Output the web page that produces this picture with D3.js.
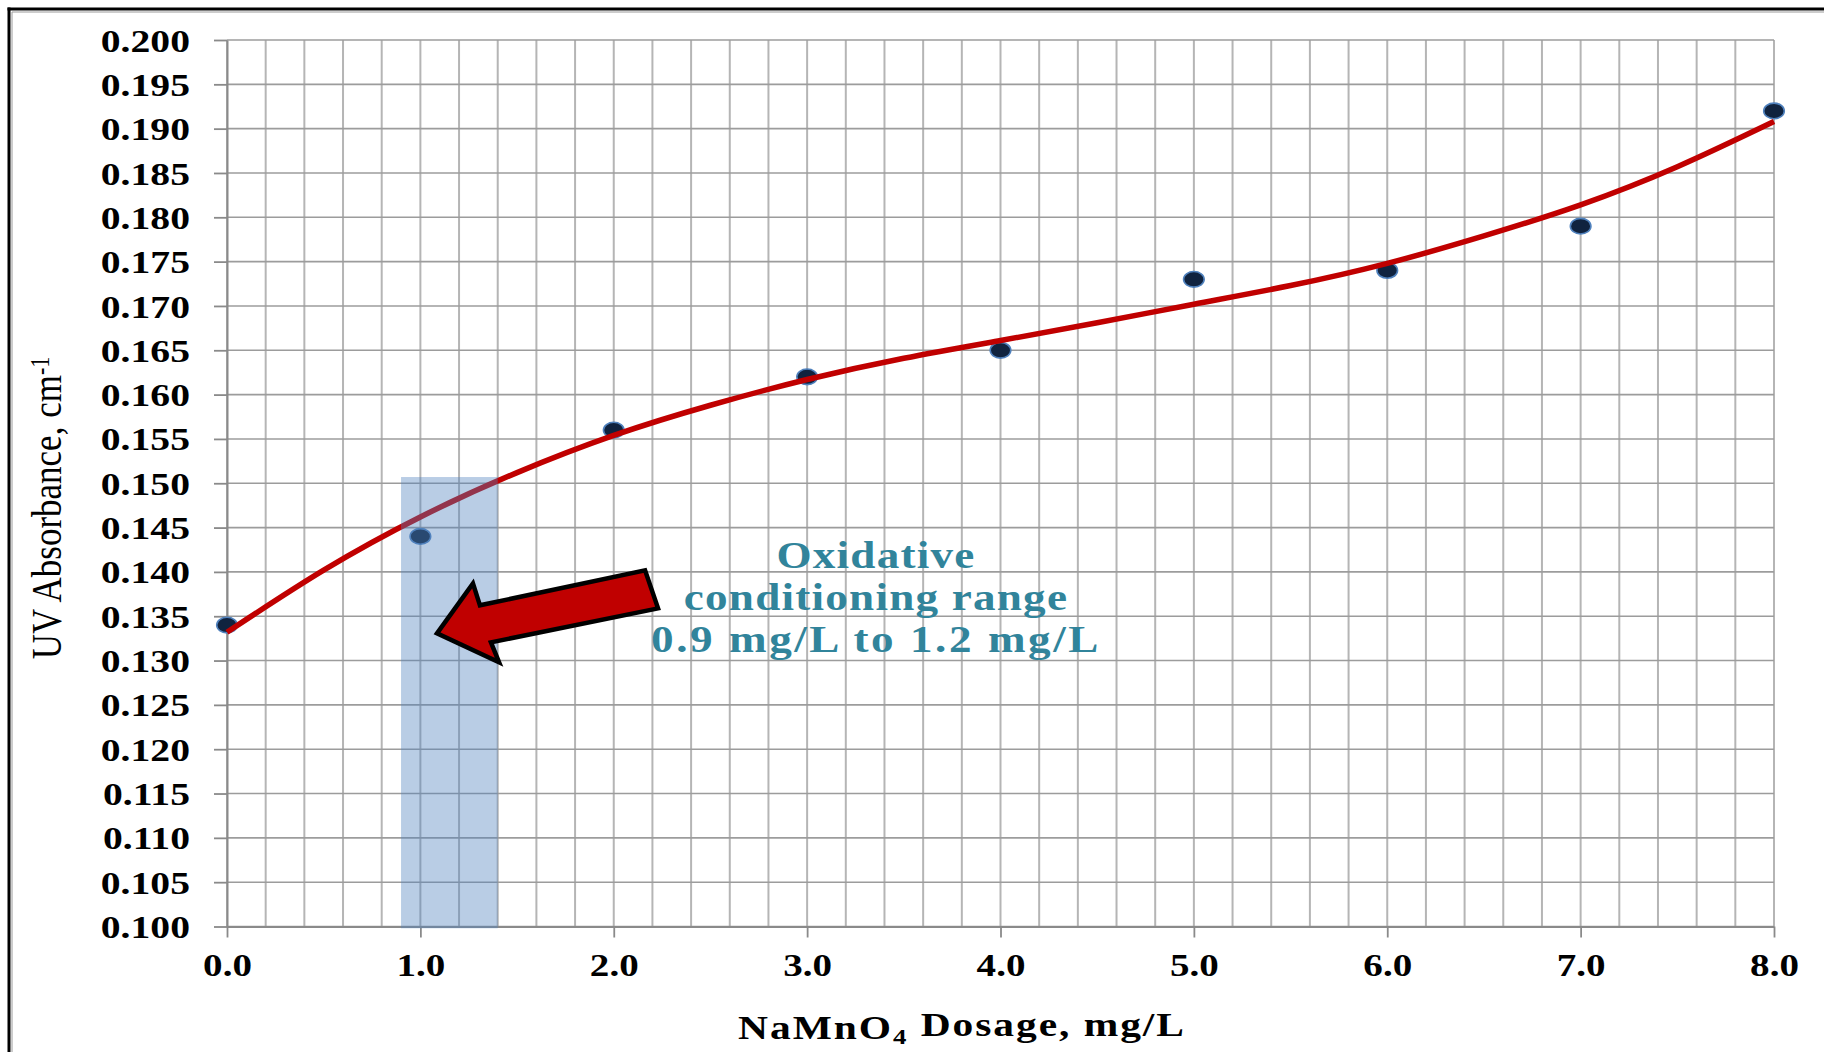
<!DOCTYPE html>
<html>
<head>
<meta charset="utf-8">
<script src="https://cdn.jsdelivr.net/npm/d3@7"></script>
<style>
  html, body { margin: 0; padding: 0; background: #ffffff; }
  svg { display: block; }
  text { font-family: "Liberation Serif", "Times New Roman", serif; }
</style>
</head>
<body>
<svg id="chart" width="1824" height="1052"></svg>
<script>
// Measured samples: NaMnO4 dosage (mg/L) vs. UV absorbance (cm^-1)
const dosage = [0, 1, 2, 3, 4, 5, 6, 7, 8];
const absorbance = [0.134, 0.144, 0.156, 0.162, 0.165, 0.173, 0.174, 0.179, 0.192];

// Trendline through the samples
const trendDosage = [0, 0.5, 1, 1.5, 2, 2.5, 3, 3.5, 4, 4.5, 5, 5.5, 6, 6.5, 7, 7.5, 8];
const trendAbsorbance = [0.1332, 0.1402, 0.1462, 0.1512, 0.1554, 0.1588, 0.1617, 0.1641,
                         0.1661, 0.1681, 0.1702, 0.1723, 0.1748, 0.1779, 0.1814, 0.1857, 0.1908];

// Axis ticks
const xTickValues = [0, 1, 2, 3, 4, 5, 6, 7, 8];
const xGridValues = d3.range(0, 40.5, 1).map(i => i / 5);
const yTickValues = d3.range(0, 20.5, 1).map(i => +(0.100 + i * 0.005).toFixed(3));

// Highlighted dosage range and its callout
const rangeDosage = [0.9, 1.4];
const rangeAbsorbance = [0.0998, 0.1507];
const arrowOutline = [
  [1.086, 0.13307], [1.272, 0.13871], [1.308, 0.13623], [2.162, 0.14018],
  [2.229, 0.13589], [1.365, 0.13205], [1.407, 0.12980]
];
const calloutLines = ["Oxidative", "conditioning range", "0.9 mg/L to 1.2 mg/L"];
const calloutSpacing = [1, 1, 2.1];

const xTitle = ["NaMnO", "4", " Dosage, mg/L"];
const yTitle = ["UV Absorbance, cm", "-1"];

// Text in this chart is set slightly wide
const sx = 1.22;

const svg = d3.select("#chart");
svg.append("rect").attr("width", 1824).attr("height", 1052).attr("fill", "#ffffff");

const plotLeft = 227, plotRight = 1774, plotTop = 40, plotBottom = 926.5;
const x = d3.scaleLinear().domain([0, 8]).range([plotLeft, plotRight]);
const y = d3.scaleLinear().domain([0.1, 0.2]).range([plotBottom, plotTop]);

// Gridlines
const grid = svg.append("g");
grid.selectAll("line.v").data(xGridValues).join("line")
  .attr("class", "v")
  .attr("x1", d => x(d)).attr("x2", d => x(d))
  .attr("y1", plotTop).attr("y2", plotBottom)
  .attr("stroke", "#b5b5b5").attr("stroke-width", 2);
grid.selectAll("line.h").data(yTickValues).join("line")
  .attr("class", "h")
  .attr("x1", plotLeft).attr("x2", plotRight)
  .attr("y1", d => y(d)).attr("y2", d => y(d))
  .attr("stroke", "#9c9c9c").attr("stroke-width", 1.6);

// Axes
const yAxis = svg.append("g")
  .attr("transform", `translate(${plotLeft},0)`)
  .call(d3.axisLeft(y).tickValues(yTickValues).tickFormat(d3.format(".3f")).tickSize(13).tickSizeOuter(0));
const xAxis = svg.append("g")
  .attr("transform", `translate(0,${plotBottom})`)
  .call(d3.axisBottom(x).tickValues(xTickValues).tickFormat(d3.format(".1f")).tickSize(11).tickSizeOuter(0));

[yAxis, xAxis].forEach(ax => {
  ax.select(".domain").attr("stroke", "#8a8a8a").attr("stroke-width", 2);
  ax.selectAll(".tick line").attr("stroke", "#8a8a8a").attr("stroke-width", 1.8);
  ax.selectAll(".tick text")
    .attr("fill", "#000")
    .style("font-family", '"Liberation Serif", "Times New Roman", serif')
    .style("font-weight", "bold");
});
yAxis.selectAll(".tick text")
  .style("font-size", "32.5px")
  .attr("x", -37 / sx)
  .attr("dy", "0.34em")
  .attr("transform", `scale(${sx},1)`);
xAxis.selectAll(".tick text")
  .style("font-size", "32px")
  .attr("y", 50)
  .attr("dy", 0)
  .attr("transform", `scale(${sx},1)`);

// Sample markers
svg.append("g").selectAll("ellipse").data(dosage).join("ellipse")
  .attr("cx", (d, i) => x(d))
  .attr("cy", (d, i) => y(absorbance[i]))
  .attr("rx", 10.3).attr("ry", 7.8)
  .attr("fill", "#10233f")
  .attr("stroke", "#4f81bd").attr("stroke-width", 1.6);

// Trendline
const trend = d3.line()
  .x((d, i) => x(trendDosage[i]))
  .y(d => y(d))
  .curve(d3.curveNatural);
svg.append("path")
  .attr("d", trend(trendAbsorbance))
  .attr("fill", "none")
  .attr("stroke", "#c00000")
  .attr("stroke-width", 5.5)
  .attr("stroke-linecap", "butt");

// Highlighted dosage range
svg.append("rect")
  .attr("x", x(rangeDosage[0]))
  .attr("width", x(rangeDosage[1]) - x(rangeDosage[0]))
  .attr("y", y(rangeAbsorbance[1]))
  .attr("height", y(rangeAbsorbance[0]) - y(rangeAbsorbance[1]))
  .attr("fill", "#4f81bd")
  .attr("fill-opacity", 0.4);

// Callout arrow
svg.append("polygon")
  .attr("points", arrowOutline.map(p => [x(p[0]), y(p[1])].join(",")).join(" "))
  .attr("fill", "#c00000")
  .attr("stroke", "#000")
  .attr("stroke-width", 4.5)
  .attr("stroke-linejoin", "miter");

// Callout text
const callout = svg.append("g");
calloutLines.forEach((t, i) => {
  callout.append("text")
    .attr("transform", `translate(876,${568 + i * 42}) scale(${sx},1)`)
    .attr("text-anchor", "middle")
    .attr("fill", "#31849b")
    .style("font-size", "37px")
    .style("font-weight", "bold")
    .style("letter-spacing", calloutSpacing[i] + "px")
    .text(t);
});

// Axis titles
const xt = svg.append("text")
  .attr("transform", `translate(962,1039) scale(${sx},1)`)
  .attr("text-anchor", "middle")
  .attr("fill", "#000")
  .style("font-size", "34px")
  .style("font-weight", "bold")
  .style("letter-spacing", "1.6px");
xt.append("tspan").text(xTitle[0]);
xt.append("tspan").attr("dy", "0.22em").style("font-size", "22px").text(xTitle[1]);
xt.append("tspan").attr("dy", "-0.22em").text(xTitle[2]);

const yt = svg.append("text")
  .attr("transform", `translate(61,508) rotate(-90) scale(1,${sx})`)
  .attr("text-anchor", "middle")
  .attr("fill", "#000")
  .style("font-size", "35px");
yt.append("tspan").text(yTitle[0]);
yt.append("tspan").attr("dy", "-0.45em").style("font-size", "22px").text(yTitle[1]);

// Outer frame (top and left edges)
const frame = svg.append("g");
frame.append("line").attr("x1", 7.5).attr("x2", 1824).attr("y1", 9).attr("y2", 9)
  .attr("stroke", "#000").attr("stroke-width", 3);
frame.append("line").attr("x1", 9).attr("x2", 9).attr("y1", 7.5).attr("y2", 1052)
  .attr("stroke", "#000").attr("stroke-width", 3);
frame.append("line").attr("x1", 12).attr("x2", 1824).attr("y1", 12).attr("y2", 12)
  .attr("stroke", "#9a9a9a").attr("stroke-width", 1);
frame.append("line").attr("x1", 12).attr("x2", 12).attr("y1", 12).attr("y2", 1052)
  .attr("stroke", "#9a9a9a").attr("stroke-width", 1);
</script>
</body>
</html>
